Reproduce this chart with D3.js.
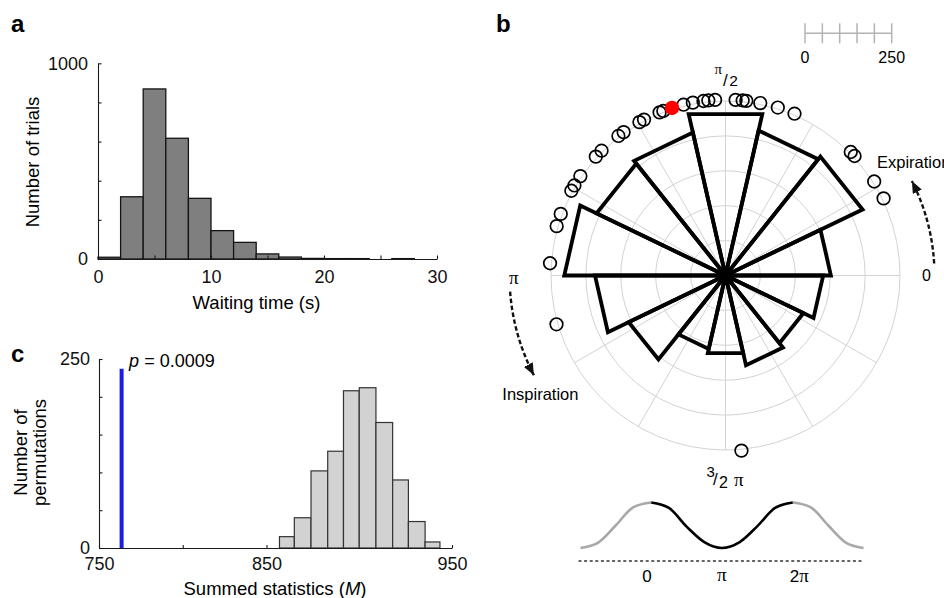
<!DOCTYPE html>
<html>
<head>
<meta charset="utf-8">
<script src="https://cdn.jsdelivr.net/npm/d3@7"></script>
<style>
    body { margin: 0; background: #fff; }
    svg { display: block; font-family: "Liberation Sans", Arial, Helvetica, sans-serif; }
    .ax path, .ax line { stroke: #1a1a1a; stroke-width: 1.1; }
    .ax text { font-size: 18px; fill: #111; font-family: "Liberation Sans", Arial, sans-serif; }
    .pi { font-family: "Liberation Serif", "DejaVu Serif", serif; }
</style>
</head>
<body>
<svg id="fig" width="944" height="598"></svg>
<script>
// ---- panel a: waiting time histogram (2 s bins) ----
const waitEdges = [0, 2, 4, 6, 8, 10, 12, 14, 16, 18, 20, 22, 24, 26, 28, 30];
const waitCounts = [9, 318, 869, 617, 310, 145, 85, 26, 10, 3, 2, 2, 0, 2, 0];

// ---- panel c: permutation distribution of summed statistic M ----
const permEdges = [857, 865, 874, 883, 891.5, 900, 909, 918, 926.5, 935.5, 943.5];
const permCounts = [15, 40, 102, 128, 208, 212, 166, 90, 35, 8];
const observedM = [763.5];
const observedBar = [237];
const pText = "0.0009";

// ---- panel b: rose histogram of respiratory phase (14 bins, 0..2pi) ----
const roseCounts = [151, 218, 213, 237, 210, 205, 231, 187, 154, 108, 114, 132, 124, 140];
const ringValues = [50, 100, 150, 200, 250];
const spokeDeg = [0, 30, 60, 90, 120, 150, 180, 210, 240, 270, 300, 330];
// per-subject mean phases (degrees), plotted outside the rose
const subjectPhaseDeg = [176, 163.7, 159.5, 151.2, 149.2, 145.6, 137.5, 134.8, 127.5, 125.4,
    119.3, 117.6, 112, 110.7, 103.8, 100.7, 97.2, 95.6, 93.4, 86.7, 84.4, 83.2, 78.6, 72.7,
    66.9, 44.6, 42.8, 32.3, 26, 196.1, 275.2];
const highlightPhaseDeg = [107.7];
const scaleBarTicks = [0, 50, 100, 150, 200, 250];

// ---- breathing schematic under panel b (phase in units of pi, normalised amplitude) ----
const wavePhase = [-1, -0.75, -0.5, -0.25, 0, 0.25, 0.5, 0.75, 1, 1.25, 1.5, 1.75, 2, 2.25, 2.5, 2.75, 3];
const waveAmp = [0, 0.12, 0.5, 0.9, 1, 0.88, 0.47, 0.13, 0, 0.13, 0.48, 0.88, 1, 0.9, 0.5, 0.12, 0];

const svg = d3.select("#fig");
const deg = Math.PI / 180;

function panelLetter(x, y, t) {
    svg.append("text").attr("x", x).attr("y", y)
        .attr("font-size", "24px").attr("font-weight", "bold").text(t);
}

// ================= panel a =================
const xA = d3.scaleLinear().domain([0, 30]).range([98, 437]);
const yA = d3.scaleLinear().domain([0, 1000]).range([259, 63.3]);

const waitBins = waitCounts.map((c, i) => ({ x0: waitEdges[i], x1: waitEdges[i + 1], c: c }))
    .filter(d => d.c > 0);

svg.append("g").selectAll("rect")
    .data(waitBins)
    .enter()
    .append("rect")
    .attr("x", d => xA(d.x0))
    .attr("y", d => yA(d.c))
    .attr("width", d => xA(d.x1) - xA(d.x0))
    .attr("height", d => yA(0) - yA(d.c))
    .attr("fill", "#7f7f7f")
    .attr("stroke", "#151515")
    .attr("stroke-width", 1.3);

svg.append("g").attr("class", "ax")
    .attr("transform", `translate(0,${yA(0)})`)
    .call(d3.axisBottom(xA).tickValues([0, 5, 10, 15, 20, 25, 30])
        .tickSizeInner(-3.5).tickSizeOuter(0).tickPadding(11)
        .tickFormat(d => d % 10 === 0 ? d : ""));

svg.append("g").attr("class", "ax")
    .attr("transform", `translate(${xA(0)},0)`)
    .call(d3.axisLeft(yA).tickValues([0, 200, 400, 600, 800, 1000])
        .tickSizeInner(-3.5).tickSizeOuter(0).tickPadding(10)
        .tickFormat(d => (d === 0 || d === 1000) ? d : ""));

svg.append("text")
    .attr("x", (xA(0) + xA(30)) / 2 - 11).attr("y", 309)
    .attr("text-anchor", "middle").attr("font-size", "18.5px")
    .text("Waiting time (s)");

svg.append("text")
    .attr("transform", "translate(38.5,162) rotate(-90)")
    .attr("text-anchor", "middle").attr("font-size", "18.5px")
    .text("Number of trials");

panelLetter(11, 32, "a");

// ================= panel c =================
const xC = d3.scaleLinear().domain([750, 850, 950]).range([99, 266.5, 452]);
const yC = d3.scaleLinear().domain([0, 250]).range([548, 359]);

const permBins = permCounts.map((c, i) => ({ x0: permEdges[i], x1: permEdges[i + 1], c: c }));

svg.append("g").selectAll("rect")
    .data(permBins)
    .enter()
    .append("rect")
    .attr("x", d => xC(d.x0))
    .attr("y", d => yC(d.c))
    .attr("width", d => xC(d.x1) - xC(d.x0))
    .attr("height", d => yC(0) - yC(d.c))
    .attr("fill", "#d2d2d2")
    .attr("stroke", "#333")
    .attr("stroke-width", 1.2);

svg.append("g").selectAll("line")
    .data(observedM)
    .enter()
    .append("line")
    .attr("x1", d => xC(d)).attr("x2", d => xC(d))
    .attr("y1", yC(0)).attr("y2", (d, i) => yC(observedBar[i]))
    .attr("stroke", "#1c1ce8")
    .attr("stroke-width", 4);

svg.append("g").attr("class", "ax")
    .attr("transform", `translate(0,${yC(0)})`)
    .call(d3.axisBottom(xC).tickValues([750, 800, 850, 950])
        .tickSizeInner(-3).tickSizeOuter(0).tickPadding(9.5)
        .tickFormat(d => d === 800 ? "" : d));

svg.append("g").attr("class", "ax")
    .attr("transform", `translate(${xC(750)},0)`)
    .call(d3.axisLeft(yC).tickValues([0, 50, 100, 150, 200, 250])
        .tickSizeInner(-3.5).tickSizeOuter(0).tickPadding(9)
        .tickFormat(d => (d === 0 || d === 250) ? d : ""));

const pLab = svg.append("text")
    .attr("x", xC(observedM[0]) + 7.5).attr("y", 367)
    .attr("font-size", "18px");
pLab.append("tspan").attr("font-style", "italic").text("p");
pLab.append("tspan").text(" = " + pText);

const mLab = svg.append("text")
    .attr("x", 275).attr("y", 595)
    .attr("text-anchor", "middle").attr("font-size", "18.5px");
mLab.append("tspan").text("Summed statistics (");
mLab.append("tspan").attr("font-style", "italic").text("M");
mLab.append("tspan").text(")");

svg.append("text")
    .attr("transform", "translate(26.5,452.5) rotate(-90)")
    .attr("text-anchor", "middle").attr("font-size", "18.5px")
    .text("Number of");
svg.append("text")
    .attr("transform", "translate(46,452.5) rotate(-90)")
    .attr("text-anchor", "middle").attr("font-size", "18.5px")
    .text("permutations");

panelLetter(11, 362, "c");

// ================= panel b =================
const cx = 725.5, cy = 275.5;
const rB = d3.scaleLinear().domain([0, 250]).range([0, 174.5]);
const pt = (th, v) => [cx + rB(v) * Math.cos(th), cy - rB(v) * Math.sin(th)];

const grid = svg.append("g").attr("fill", "none").attr("stroke", "#d3d3d3").attr("stroke-width", 1);
grid.selectAll("circle")
    .data(ringValues)
    .enter()
    .append("circle")
    .attr("cx", cx).attr("cy", cy)
    .attr("r", d => rB(d));
grid.selectAll("line")
    .data(spokeDeg)
    .enter()
    .append("line")
    .attr("x1", cx).attr("y1", cy)
    .attr("x2", d => pt(d * deg, 250)[0])
    .attr("y2", d => pt(d * deg, 250)[1]);

const binW = 2 * Math.PI / roseCounts.length;
svg.append("g").selectAll("path")
    .data(roseCounts)
    .enter()
    .append("path")
    .attr("d", (c, i) => d3.line()([[cx, cy], pt(i * binW, c), pt((i + 1) * binW, c)]) + "Z")
    .attr("fill", "none")
    .attr("stroke", "#000")
    .attr("stroke-width", 3.8)
    .attr("stroke-linejoin", "miter");

const markerLevel = 252;
svg.append("g").selectAll("circle")
    .data(subjectPhaseDeg)
    .enter()
    .append("circle")
    .attr("cx", d => pt(d * deg, markerLevel)[0])
    .attr("cy", d => pt(d * deg, markerLevel)[1])
    .attr("r", 6.3)
    .attr("fill", "none")
    .attr("stroke", "#000")
    .attr("stroke-width", 1.7);

svg.append("g").selectAll("circle")
    .data(highlightPhaseDeg)
    .enter()
    .append("circle")
    .attr("cx", d => pt(d * deg, markerLevel)[0])
    .attr("cy", d => pt(d * deg, markerLevel)[1])
    .attr("r", 7.2)
    .attr("fill", "#ff0000");

// angle labels
const piT = (x, y, size, txt) => svg.append("text").attr("class", "pi")
    .attr("x", x).attr("y", y).attr("font-size", size + "px").text(txt);
const snT = (x, y, size, txt) => svg.append("text")
    .attr("x", x).attr("y", y).attr("font-size", size + "px").text(txt);

piT(714.5, 74, 15, "π");
snT(723, 85.5, 17, "/");
snT(729.3, 85.7, 15.5, "2");

snT(706.5, 476.5, 15, "3");
snT(713, 485, 17, "/");
snT(719, 488.3, 16, "2");
piT(734, 485.5, 19, "π");

piT(509, 284, 19, "π");
snT(922, 280.5, 16, "0");

// direction arrows
svg.append("defs").append("marker")
    .attr("id", "ah")
    .attr("viewBox", "0 0 12 10")
    .attr("refX", 12).attr("refY", 5)
    .attr("markerWidth", 12).attr("markerHeight", 10)
    .attr("markerUnits", "userSpaceOnUse")
    .attr("orient", "auto")
    .append("path")
    .attr("d", "M0,0L12,5L0,10Z")
    .attr("fill", "#111");

function arcArrow(r, a0, a1) {
    const p = d3.path();
    p.arc(cx, cy, r, -a0 * deg, -a1 * deg, true);
    svg.append("path")
        .attr("d", p.toString())
        .attr("fill", "none")
        .attr("stroke", "#111")
        .attr("stroke-width", 2.4)
        .attr("stroke-dasharray", "4.5,2.5")
        .attr("marker-end", "url(#ah)");
}
arcArrow(209, 3.3, 26.9);
arcArrow(216, 184.3, 207.5);

snT(877, 168.3, 16.5, "Expiration");
snT(502.3, 400, 16.5, "Inspiration");

// scale bar
const sb = d3.scaleLinear().domain([0, 250]).range([805, 891.7]);
const sbG = svg.append("g").attr("stroke", "#b3b3b3").attr("stroke-width", 1.5);
sbG.append("line").attr("x1", sb(0)).attr("x2", sb(250)).attr("y1", 33.3).attr("y2", 33.3);
sbG.selectAll("line.t")
    .data(scaleBarTicks)
    .enter()
    .append("line")
    .attr("class", "t")
    .attr("x1", d => sb(d)).attr("x2", d => sb(d))
    .attr("y1", 23.3).attr("y2", 43.3);
svg.selectAll("text.sb")
    .data([0, 250])
    .enter()
    .append("text")
    .attr("class", "sb")
    .attr("x", d => sb(d)).attr("y", 63.3)
    .attr("text-anchor", "middle").attr("font-size", "16px")
    .text(d => d);

panelLetter(496, 31.7, "b");

// breathing schematic
const xW = d3.scaleLinear().domain([-1, 3]).range([580.5, 863.5]);
const yW = d3.scaleLinear().domain([0, 1]).range([548, 502.5]);
const wave = wavePhase.map((p, i) => [p, waveAmp[i]]);
const waveLine = d3.line().x(d => xW(d[0])).y(d => yW(d[1])).curve(d3.curveMonotoneX);

const segs = [
    { pts: wave.filter(d => d[0] <= 0), col: "#a8a8a8" },
    { pts: wave.filter(d => d[0] >= 2), col: "#a8a8a8" },
    { pts: wave.filter(d => d[0] >= 0 && d[0] <= 2), col: "#000" }
];
svg.append("g").selectAll("path")
    .data(segs)
    .enter()
    .append("path")
    .attr("d", d => waveLine(d.pts))
    .attr("fill", "none")
    .attr("stroke", d => d.col)
    .attr("stroke-width", 2.6);

svg.append("line")
    .attr("x1", xW(-1) - 2).attr("x2", xW(3))
    .attr("y1", 561).attr("y2", 561)
    .attr("stroke", "#333").attr("stroke-width", 1.4)
    .attr("stroke-dasharray", "3,2.6");

snT(xW(0) - 9, 582, 17, "0");
piT(xW(1) - 5, 581, 19, "π");
const twoPi = svg.append("text").attr("x", xW(2) - 3).attr("y", 582).attr("font-size", "17px");
twoPi.append("tspan").text("2");
twoPi.append("tspan").attr("class", "pi").attr("font-size", "19px").text("π");
</script>
</body>
</html>
